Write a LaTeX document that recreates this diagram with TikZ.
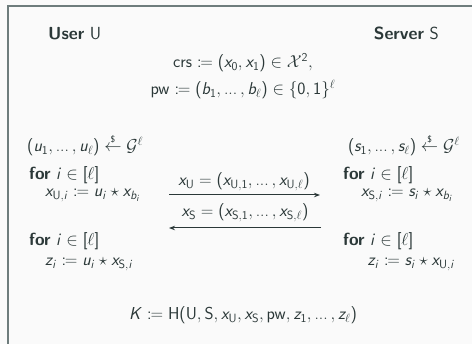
\documentclass[tikz,border=0pt]{standalone}
\usepackage{amsmath,amssymb,mathtools}
\usetikzlibrary{arrows.meta}
\DeclareSymbolFont{sfletters}{OT1}{cmss}{m}{sl}
\SetSymbolFont{operators}{normal}{OT1}{cmss}{m}{n}
\SetSymbolFont{operators}{bold}{OT1}{cmss}{bx}{n}
\DeclareMathSymbol{b}{\mathalpha}{sfletters}{`b}
\DeclareMathSymbol{i}{\mathalpha}{sfletters}{`i}
\DeclareMathSymbol{s}{\mathalpha}{sfletters}{`s}
\DeclareMathSymbol{u}{\mathalpha}{sfletters}{`u}
\DeclareMathSymbol{x}{\mathalpha}{sfletters}{`x}
\DeclareMathSymbol{z}{\mathalpha}{sfletters}{`z}
\DeclareMathSymbol{K}{\mathalpha}{sfletters}{`K}
\newcommand{\smpl}{\mathrel{\overset{\scriptscriptstyle\$}{\leftarrow}}}
\newcommand{\dts}{\mathinner{\textnormal{...}}}
\definecolor{txt}{HTML}{2B3838}
\definecolor{framec}{HTML}{6E7C7C}
\definecolor{bgc}{HTML}{FAFAFA}
\begin{document}
\begin{tikzpicture}[x=1pt,y=-1pt,
  every node/.style={inner sep=0pt, text=txt, font=\sffamily\fontsize{17.5}{21}\selectfont},
  msg/.style={draw=txt, line width=1pt, -{Stealth[length=6pt,width=4.5pt]}}]
\useasboundingbox (0,0) rectangle (472,344);
\fill[bgc] (0,0) rectangle (472,344);
\draw[framec, line width=1.4pt] (8,344) -- (8,6) -- (472,6);

\node[anchor=base west] (user) at (48,40) {\textbf{User} U};
\node[anchor=base east] (server) at (439,40) {\textbf{Server} S};
\node[anchor=base] (crs) at (243,68) {$\mathsf{crs} \coloneqq (x_0, x_1) \in \mathcal{X}^2,$};
\node[anchor=base] (pw) at (243,95) {$\mathsf{pw} \coloneqq (b_1, \dts, b_\ell) \in \{0,1\}^\ell$};

\node[anchor=base west] (ul) at (27,152) {$(u_1, \dts, u_\ell) \smpl \mathcal{G}^\ell$};
\node[anchor=base east] (sr) at (460,152) {$(s_1, \dts, s_\ell) \smpl \mathcal{G}^\ell$};

\node[anchor=base west] (for1) at (29,180) {\textbf{for} $i \in [\ell]$};
\node[anchor=base west] (xu) at (45,197) {$x_{\mathsf{U},i} \coloneqq u_i \star x_{b_i}$};
\node[anchor=base west] (for2) at (343,180) {\textbf{for} $i \in [\ell]$};
\node[anchor=base west] (xs) at (361,197) {$x_{\mathsf{S},i} \coloneqq s_i \star x_{b_i}$};

\node[anchor=base] (mu) at (244,186) {$x_{\mathsf{U}} = (x_{\mathsf{U},1}, \dts, x_{\mathsf{U},\ell})$};
\coordinate (a1s) at (169,195);
\coordinate (a1e) at (320,195);
\draw[msg] (a1s) -- (a1e);
\node[anchor=base] (ms) at (245,217) {$x_{\mathsf{S}} = (x_{\mathsf{S},1}, \dts, x_{\mathsf{S},\ell})$};
\coordinate (a2s) at (169,228);
\coordinate (a2e) at (321,228);
\draw[msg] (a2e) -- (a2s);

\node[anchor=base west] (for3) at (29,246) {\textbf{for} $i \in [\ell]$};
\node[anchor=base west] (zu) at (45,266) {$z_i \coloneqq u_i \star x_{\mathsf{S},i}$};
\node[anchor=base west] (for4) at (343,246) {\textbf{for} $i \in [\ell]$};
\node[anchor=base east] (zs) at (455,266) {$z_i \coloneqq s_i \star x_{\mathsf{U},i}$};

\node[anchor=base] (key) at (243,320) {$K \coloneqq \mathsf{H}(\mathsf{U}, \mathsf{S}, x_{\mathsf{U}}, x_{\mathsf{S}}, \mathsf{pw}, z_1, \dts, z_\ell)$};
\end{tikzpicture}
\end{document}
